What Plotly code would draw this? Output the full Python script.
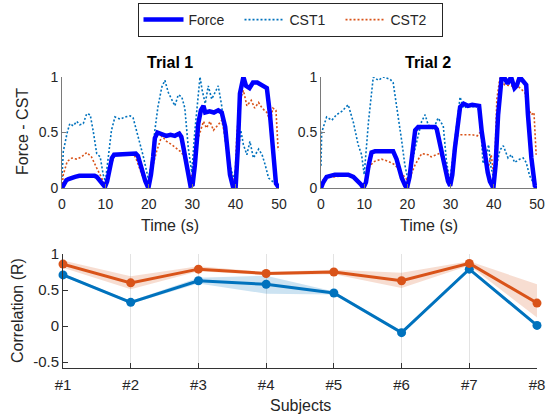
import plotly.graph_objects as go

# ---------------- Data ----------------
# Trial 1
t1_force = [0, 0.5, 1, 1.5, 2, 3, 4, 5, 6, 7, 7.5, 8, 8.6, 9.2, 9.9, 10.4, 11, 11.5, 12, 13, 14, 15, 16, 17, 17.5, 18.4, 19.2, 19.9,
            20.5, 21, 21.4, 22, 22.5, 23, 24, 25, 26, 27, 27.5, 28, 28.5, 29.1, 29.6, 30.1, 30.6, 31.4, 32, 32.6, 33, 34, 35, 36, 36.8, 37.6,
            38.2, 38.7, 39.4, 40, 40.5, 41, 41.8, 42.4, 43.2, 44, 45, 46, 46.6, 47.2, 47.9, 48.7, 49.3, 50]
v1_force = [0.0, 0.04, 0.07, 0.08, 0.09, 0.10, 0.11, 0.11, 0.12, 0.12, 0.11, 0.10, 0.07, 0.04, 0.01, 0.06, 0.17, 0.27, 0.30, 0.30, 0.31, 0.31, 0.31, 0.31, 0.29, 0.16, 0.06, 0.0,
            0.12, 0.28, 0.45, 0.50, 0.49, 0.48, 0.47, 0.48, 0.47, 0.49, 0.46, 0.36, 0.24, 0.09, 0.02, 0.03, 0.2, 0.58, 0.70, 0.74, 0.68, 0.69, 0.68, 0.70, 0.68, 0.55,
            0.3, 0.12, 0.01, 0.0, 0.35, 0.85, 1.0, 0.92, 0.90, 0.95, 0.95, 0.93, 0.92, 0.90, 0.67, 0.28, 0.04, 0.0]
t1_cst1 = [0, 0.3, 1.2, 1.8, 2.6, 3.4, 4.1, 4.9, 5.7, 6.5, 7.2, 8, 8.8, 9.5, 10, 10.7, 11.4, 12.2, 13.4, 14.5, 15.7, 16.4, 17.2, 18, 18.7, 19.9,
           20.6, 21.4, 22.1, 23, 23.7, 24.5, 25.3, 26, 26.8, 27.6, 28.3, 29.1, 29.9, 30.6, 31.8, 32.3, 33, 33.7, 34.5, 35.2, 36, 36.8, 37.5, 38.7, 39.5,
           40.3, 41.2, 41.8, 42.6, 43.3, 44.1, 45.3, 46.1, 46.8, 47.6, 48.8, 50]
v1_cst1 = [0.1, 0.33, 0.5, 0.58, 0.56, 0.60, 0.57, 0.58, 0.67, 0.66, 0.51, 0.31, 0.28, 0.12, 0.06, 0.31, 0.52, 0.64, 0.62, 0.64, 0.65, 0.63, 0.51, 0.39, 0.29, 0.08,
           0.22, 0.52, 0.73, 0.91, 0.97, 0.86, 0.80, 0.74, 0.84, 0.82, 0.72, 0.36, 0.14, 0.51, 1.0, 0.88, 0.76, 0.92, 0.80, 0.86, 0.92, 0.74, 0.45, 0.21, 0.09,
           0.21, 0.52, 0.39, 0.30, 0.42, 0.27, 0.35, 0.30, 0.21, 0.09, 0.05, 0.0]
t1_cst2 = [0, 0.3, 1.2, 2.3, 3.4, 4.5, 5.7, 6.8, 8, 9.1, 9.9, 11, 12.2, 13.5, 15, 16.5, 17.2, 18.4, 19.5, 20.1, 20.6, 21.8, 23, 24.1, 25.3, 26.4, 27.6,
           28.3, 29.5, 30.2, 31.4, 32.6, 33.3, 34.1, 34.9, 36, 36.8, 37.5, 38.3, 39.1, 39.8, 40.3, 41.1, 41.8, 42.6, 43.6, 44.4, 45.3, 46.1, 47.2, 48,
           48.6, 49.3, 49.8]
v1_cst2 = [0.0, 0.12, 0.24, 0.27, 0.26, 0.28, 0.32, 0.28, 0.18, 0.09, 0.03, 0.18, 0.30, 0.30, 0.31, 0.31, 0.25, 0.12, 0.05, 0.02, 0.15, 0.33, 0.47, 0.42, 0.39, 0.36, 0.32,
           0.26, 0.12, 0.1, 0.45, 0.60, 0.54, 0.60, 0.52, 0.57, 0.61, 0.48, 0.24, 0.12, 0.03, 0.5, 0.80, 0.88, 0.74, 0.79, 0.72, 0.77, 0.72, 0.68, 0.60,
           0.72, 0.70, 0.34]

# Trial 2
t2_force = [0, 0.5, 1.3, 2, 3.2, 4.5, 5.5, 6.3, 7.5, 8.6, 9.3, 9.8, 10.4, 11, 11.7, 12.5, 14, 15.5, 16.7, 17.5, 18.7, 19.5, 19.9,
            20.5, 21, 21.8, 22.5, 23.3, 24.1, 25.2, 26.4, 26.8, 27.5, 28.1, 28.7, 29.4, 29.9, 30.4, 31, 31.6, 32.2, 33, 34, 35, 36, 36.6, 37.2, 38, 38.6, 39.1, 39.9,
            40.4, 41, 41.8, 42.5, 43.2, 44, 44.8, 45.3, 46, 46.8, 47.5, 47.9, 48.7, 49.5, 50]
v2_force = [0.0, 0.05, 0.10, 0.11, 0.12, 0.12, 0.12, 0.12, 0.10, 0.06, 0.03, 0.0, 0.05, 0.2, 0.32, 0.33, 0.33, 0.33, 0.33, 0.26, 0.09, 0.02, 0.0,
            0.1, 0.24, 0.52, 0.55, 0.55, 0.54, 0.54, 0.55, 0.53, 0.40, 0.26, 0.16, 0.06, 0.02, 0.12, 0.36, 0.58, 0.73, 0.76, 0.74, 0.75, 0.74, 0.74, 0.51, 0.27, 0.14, 0.06, 0.0,
            0.2, 0.66, 0.99, 0.99, 0.94, 1.0, 0.9, 0.92, 1.0, 0.96, 0.93, 0.66, 0.27, 0.02, 0.0]
t2_cst1 = [0, 0.15, 1.3, 2.5, 3.6, 4.8, 6.3, 7.5, 8.6, 9.4, 10, 11, 12.1, 13.3, 14.4, 16, 16.7, 17.5, 18.7, 19.4, 20.2,
           21.8, 23.3, 24.1, 24.8, 26, 27.1, 28.3, 29, 29.8, 31.4, 32.2, 33, 34, 35, 36, 36.8, 37.5, 38.3, 38.8, 39.3, 40,
           41.4, 42.2, 43.3, 44.1, 44.8, 46, 46.8, 47.5, 48.3, 49.5, 50]
v2_cst1 = [0.2, 0.5, 0.64, 0.61, 0.66, 0.69, 0.75, 0.59, 0.39, 0.30, 0.12, 0.6, 1.0, 0.97, 1.0, 0.98, 0.95, 0.75, 0.42, 0.21, 0.06,
           0.36, 0.60, 0.66, 0.57, 0.53, 0.63, 0.56, 0.26, 0.05, 0.53, 0.82, 0.72, 0.74, 0.73, 0.74, 0.68, 0.22, 0.30, 0.39, 0.2, 0.08,
           0.34, 0.38, 0.27, 0.30, 0.23, 0.26, 0.27, 0.23, 0.11, 0.02, 0.0]
t2_cst2 = [0, 0.15, 1.3, 3, 5, 7, 8.2, 9.4, 10.1, 11.3, 12.4, 14, 15.6, 17.1, 18.3, 19.4, 20.2, 21.8, 23.3, 24.8, 25.5, 27.4, 28.7, 29.4, 30.1,
           31.6, 32.4, 33.9, 35, 36.2, 36.8, 37.9, 38.7, 39.4, 40.1, 40.7, 41.4, 42.5, 44, 45.5, 46.5, 47.2, 47.8, 48.7, 49.3, 49.8]
v2_cst2 = [0.0, 0.06, 0.10, 0.10, 0.11, 0.11, 0.07, 0.03, 0.03, 0.2, 0.24, 0.26, 0.24, 0.21, 0.15, 0.10, 0.06, 0.21, 0.31, 0.30, 0.28, 0.31, 0.25, 0.12, 0.05,
           0.47, 0.48, 0.48, 0.48, 0.47, 0.50, 0.36, 0.18, 0.30, 0.08, 0.8, 0.99, 0.93, 0.92, 0.92, 0.88, 0.86, 0.73, 0.66, 0.68, 0.30]

# Correlation per subject
subjects = ["#1", "#2", "#3", "#4", "#5", "#6", "#7", "#8"]
subj_x = [1, 2, 3, 4, 5, 6, 7, 8]
corr_cst2 = [0.86, 0.60, 0.79, 0.73, 0.75, 0.63, 0.87, 0.32]
corr_cst2_hi = [0.91, 0.69, 0.83, 0.75, 0.78, 0.74, 0.90, 0.58]
corr_cst2_lo = [0.81, 0.51, 0.76, 0.71, 0.72, 0.53, 0.84, 0.12]
corr_cst1 = [0.71, 0.33, 0.63, 0.58, 0.46, -0.09, 0.79, 0.01]
corr_cst1_hi = [0.73, 0.35, 0.67, 0.70, 0.48, -0.07, 0.81, 0.03]
corr_cst1_lo = [0.69, 0.31, 0.59, 0.45, 0.44, -0.11, 0.77, -0.01]

yticks_top = [0, 0.5, 1]
ytick_top_text = ["0", "0.5", "1"]
xticks_top = [0, 10, 20, 30, 40, 50]
yticks_bot = [-0.5, 0, 0.5, 1]
ytick_bot_text = ["-0.5", "0", "0.5", "1"]

# ---------------- Styles ----------------
BLUE_F = "#0000FF"
BLUE = "#0072BD"
ORANGE = "#D95319"
FONT = "Liberation Sans, Arial, sans-serif"
TXT = "#262626"
DOT = "2px,2px"

fig = go.Figure()

def add_trial(ts, xa, ya, showlegend):
    tf, vf, tc1, vc1, tc2, vc2 = ts
    fig.add_trace(go.Scatter(x=tc1, y=vc1, xaxis=xa, yaxis=ya, mode="lines", name="CST1",
                             line=dict(color=BLUE, width=1.6, dash=DOT), showlegend=showlegend, legendrank=2))
    fig.add_trace(go.Scatter(x=tc2, y=vc2, xaxis=xa, yaxis=ya, mode="lines", name="CST2",
                             line=dict(color=ORANGE, width=1.6, dash=DOT), showlegend=showlegend, legendrank=3))
    fig.add_trace(go.Scatter(x=tf, y=vf, xaxis=xa, yaxis=ya, mode="lines", name="Force",
                             line=dict(color=BLUE_F, width=4.5), showlegend=showlegend, legendrank=1))

add_trial((t1_force, v1_force, t1_cst1, v1_cst1, t1_cst2, v1_cst2), "x", "y", True)
add_trial((t2_force, v2_force, t2_cst1, v2_cst1, t2_cst2, v2_cst2), "x2", "y2", False)

# bands
fig.add_trace(go.Scatter(x=subj_x + subj_x[::-1], y=corr_cst2_hi + corr_cst2_lo[::-1], xaxis="x3", yaxis="y3",
                         fill="toself", fillcolor="rgba(217,83,25,0.2)", line=dict(width=0), mode="lines",
                         showlegend=False, hoverinfo="skip"))
fig.add_trace(go.Scatter(x=subj_x + subj_x[::-1], y=corr_cst1_hi + corr_cst1_lo[::-1], xaxis="x3", yaxis="y3",
                         fill="toself", fillcolor="rgba(0,114,189,0.2)", line=dict(width=0), mode="lines",
                         showlegend=False, hoverinfo="skip"))
fig.add_trace(go.Scatter(x=subj_x, y=corr_cst1, xaxis="x3", yaxis="y3", mode="lines+markers",
                         line=dict(color=BLUE, width=3), marker=dict(size=9, color=BLUE),
                         showlegend=False, cliponaxis=False))
fig.add_trace(go.Scatter(x=subj_x, y=corr_cst2, xaxis="x3", yaxis="y3", mode="lines+markers",
                         line=dict(color=ORANGE, width=3), marker=dict(size=9, color=ORANGE),
                         showlegend=False, cliponaxis=False))

W, H = 547, 418
def sx(v):
    return v / W
def sy(v):
    return 1 - v / H
def px_x(a, b):
    return [sx(a), sx(b)]
def px_y(top, bottom):
    return [sy(bottom), sy(top)]

top_ax = dict(showline=True, linecolor="#7a7a7a", linewidth=1, ticks="inside", ticklen=4, tickcolor="#7a7a7a",
              showgrid=False, zeroline=False, automargin=False, tickfont=dict(family=FONT, size=14, color=TXT))

fig.update_layout(
    width=W, height=H, margin=dict(l=0, r=0, t=0, b=0, autoexpand=False),
    paper_bgcolor="white", plot_bgcolor="white",
    font=dict(family=FONT, color=TXT),
    xaxis=dict(domain=px_x(62, 279), range=[0, 50], tickvals=xticks_top, anchor="y", ticklabelstandoff=3, **top_ax),
    yaxis=dict(domain=px_y(77, 188), range=[0, 1], tickvals=yticks_top, ticktext=ytick_top_text, anchor="x", ticklabelstandoff=0, **top_ax),
    xaxis2=dict(domain=px_x(321, 537), range=[0, 50], tickvals=xticks_top, anchor="y2", ticklabelstandoff=3, **top_ax),
    yaxis2=dict(domain=px_y(77, 188), range=[0, 1], tickvals=yticks_top, ticktext=ytick_top_text, anchor="x2", ticklabelstandoff=0, **top_ax),
    xaxis3=dict(domain=px_x(63, 537), range=[1, 8], tickvals=subj_x, ticktext=subjects, anchor="y3",
                showline=True, linecolor="#333333", linewidth=1, ticks="inside", ticklen=5, tickcolor="#333333",
                showgrid=True, gridcolor="#e3e3e3", gridwidth=1, zeroline=False, ticklabelstandoff=3, automargin=False,
                tickfont=dict(family=FONT, size=15, color=TXT)),
    yaxis3=dict(domain=px_y(254, 368), range=[-0.58, 1.0], tickvals=yticks_bot, ticktext=ytick_bot_text, anchor="x3",
                showline=True, linecolor="#333333", linewidth=1, ticks="inside", ticklen=5, tickcolor="#333333",
                showgrid=False, zeroline=False, ticklabelstandoff=0, automargin=False,
                tickfont=dict(family=FONT, size=15, color=TXT)),
    legend=dict(orientation="h", x=sx(290), y=sy(20), xanchor="center", yanchor="middle",
                bgcolor="white", bordercolor="#262626", borderwidth=1,
                font=dict(family=FONT, size=14, color=TXT), traceorder="normal",
                entrywidth=46, entrywidthmode="pixels", itemwidth=40),
    showlegend=True,
)

ann = [
    dict(text="<b>Trial 1</b>", x=170, y=62, size=16, angle=0),
    dict(text="<b>Trial 2</b>", x=428, y=62, size=16, angle=0),
    dict(text="Force - CST", x=22, y=132, size=16, angle=-90),
    dict(text="Time (s)", x=170, y=225, size=16, angle=0),
    dict(text="Time (s)", x=429, y=225, size=16, angle=0),
    dict(text="Correlation (R)", x=17, y=311, size=16, angle=-90),
    dict(text="Subjects", x=300, y=405, size=16, angle=0),
]
for a in ann:
    fig.add_annotation(text=a["text"], x=sx(a["x"]), y=sy(a["y"]), xref="paper", yref="paper",
                       xanchor="center", yanchor="middle", showarrow=False, textangle=a["angle"],
                       font=dict(family=FONT, size=a["size"], color="#000000" if "Trial" in a["text"] else TXT))

# remove the default page margin so the 547x418 figure fills the window exactly
fig.write_html("out.html", config={"displayModeBar": False},
               post_script="document.body.style.margin='0';document.body.style.overflow='hidden';")
